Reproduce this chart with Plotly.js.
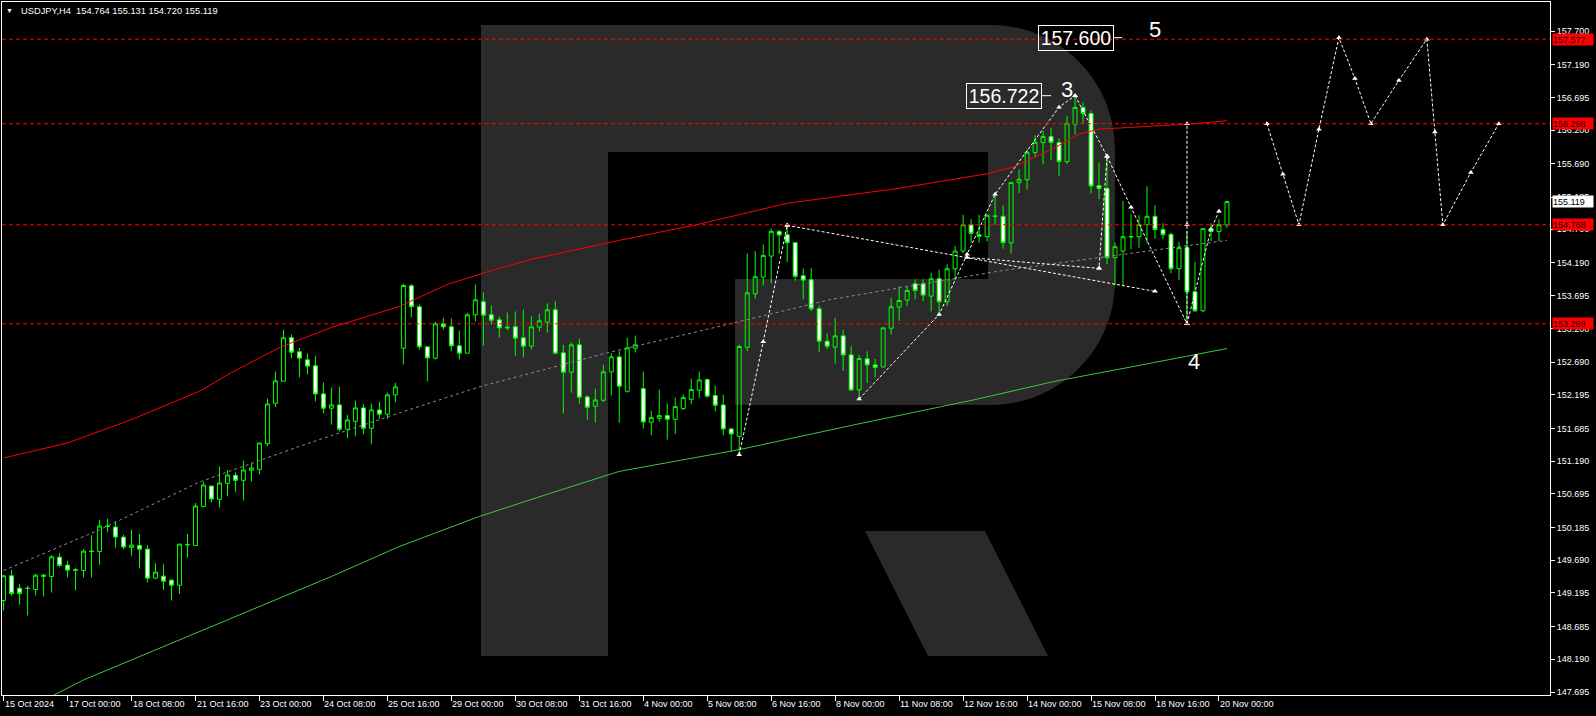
<!DOCTYPE html>
<html><head><meta charset="utf-8">
<script src="https://cdn.plot.ly/plotly-3.0.1.min.js"></script>
<style>html,body{margin:0;padding:0;background:#000;}#chart{width:1596px;height:716px;}</style>
</head><body><div id="chart"></div>
<script>
// ---------- DATA ----------
const symbol = 'USDJPY';
const timeframe = 'H4';
const opens = [149.080,149.454,149.267,149.267,149.247,149.464,149.444,149.737,149.616,149.545,
149.535,149.828,149.823,150.207,150.192,150.040,149.884,149.914,149.858,149.419,
149.449,149.388,149.312,149.929,149.914,150.505,150.813,150.611,150.854,150.975,
150.899,151.051,151.066,151.455,152.066,152.400,153.057,152.844,152.723,152.632,
152.208,151.991,152.041,151.672,151.793,151.996,151.687,151.965,151.900,152.193,
152.899,153.844,153.526,152.920,152.748,153.268,153.223,152.935,152.824,153.405,
153.602,153.405,153.329,153.218,153.223,153.056,152.930,153.218,153.294,153.481,
152.829,152.536,152.950,152.162,152.020,152.111,152.541,152.768,152.248,152.899,
152.288,151.778,151.838,151.879,151.823,151.985,152.126,152.263,152.424,152.182,
152.040,151.677,151.565,152.914,153.723,153.976,154.294,154.668,154.617,154.496,
153.996,153.935,153.496,153.005,152.914,153.086,152.798,152.268,152.738,152.647,
152.616,153.202,153.521,153.627,153.875,153.875,153.688,153.951,153.602,154.102,
154.370,154.769,154.618,154.587,154.901,154.896,154.492,155.406,155.451,155.861,
156.012,156.103,156.012,155.724,156.290,156.543,156.452,155.360,155.320,154.269,
154.370,154.590,154.587,154.769,154.896,154.694,154.623,154.102,154.421,153.754,
153.466,154.709,154.664,154.764];
const highs = [149.469,149.545,149.333,149.302,149.484,149.484,149.767,149.798,149.681,149.570,
149.858,150.070,150.303,150.318,150.283,150.075,150.151,150.086,149.919,149.646,
149.631,149.403,149.934,150.086,150.555,150.879,150.813,151.106,151.056,151.020,
151.197,151.167,151.465,152.137,152.546,153.178,153.107,152.905,152.819,152.784,
152.380,152.304,152.314,151.889,152.107,152.056,152.061,152.087,152.228,152.375,
153.880,153.870,153.561,152.930,153.299,153.359,153.349,153.167,153.435,153.865,
153.743,153.546,153.380,153.440,153.455,153.481,153.380,153.420,153.577,153.607,
152.950,152.985,153.046,152.187,152.288,152.652,152.829,152.854,153.061,153.091,
152.546,151.955,152.273,152.061,152.152,152.197,152.440,152.546,152.440,152.334,
152.197,151.697,152.955,154.334,154.370,154.471,154.713,154.688,154.759,154.496,
154.107,154.112,153.546,153.122,153.359,153.177,152.930,152.798,152.854,152.738,
153.208,153.662,153.839,153.840,153.941,153.941,154.042,154.087,154.168,154.446,
154.921,154.855,154.921,154.921,155.229,155.057,155.406,155.608,155.906,156.124,
156.189,156.235,156.078,156.417,156.722,156.619,156.497,155.709,155.785,154.500,
155.128,154.926,154.911,155.350,155.062,154.790,154.648,154.507,154.663,154.208,
154.709,154.790,154.850,155.131];
const lows = [148.928,149.151,149.014,148.853,149.156,149.141,149.201,149.585,149.429,149.232,
149.429,149.429,149.621,150.116,149.878,149.858,149.757,149.565,149.353,149.403,
149.242,149.080,149.181,149.732,149.914,150.490,150.566,150.490,150.657,150.727,
150.596,150.884,150.990,151.415,152.006,152.400,152.749,152.460,152.501,152.097,
151.915,151.743,151.642,151.536,151.566,151.596,151.445,151.829,151.829,152.081,
152.652,153.369,152.879,152.399,152.728,153.182,152.854,152.728,152.824,153.304,
152.940,153.258,153.061,153.172,152.788,152.758,152.879,153.152,153.137,152.809,
151.909,152.227,152.061,151.818,151.773,152.086,152.182,151.773,152.227,152.834,
151.682,151.581,151.788,151.515,151.606,151.965,152.051,152.147,152.152,151.944,
151.581,151.338,151.287,152.854,153.652,153.849,153.880,154.329,154.203,153.920,
153.637,153.460,152.839,152.889,152.667,152.556,152.253,152.131,152.374,152.460,
152.611,153.107,153.314,153.536,153.637,153.612,153.456,153.385,153.536,153.941,
154.335,154.497,154.497,154.517,154.769,154.406,154.330,155.249,155.300,155.790,
155.684,155.745,155.507,155.689,156.134,156.290,155.244,155.153,154.168,153.850,
153.840,154.396,154.421,154.497,154.557,154.547,154.032,153.931,153.269,153.446,
153.446,154.522,154.522,154.720];
const closes = [149.454,149.186,149.186,149.262,149.464,149.449,149.742,149.611,149.540,149.540,
149.828,149.823,150.207,150.202,150.040,149.889,149.919,149.858,149.419,149.510,
149.373,149.312,149.934,149.924,150.510,150.828,150.616,150.859,150.980,150.899,
151.056,151.086,151.465,152.056,152.405,153.057,152.839,152.749,152.627,152.208,
151.991,152.041,151.672,151.814,151.996,151.687,151.965,151.900,152.193,152.314,
153.849,153.526,152.920,152.753,153.268,153.223,152.935,152.824,153.405,153.632,
153.400,153.324,153.208,153.208,153.051,152.930,153.223,153.314,153.481,152.824,
152.536,152.950,152.157,152.005,152.116,152.541,152.768,152.323,152.905,152.950,
151.783,151.848,151.879,151.823,152.015,152.152,152.273,152.419,152.172,152.035,
151.677,151.601,152.925,153.738,153.981,154.304,154.668,154.612,154.496,153.986,
153.930,153.496,153.005,152.930,153.086,152.798,152.268,152.743,152.647,152.606,
153.208,153.526,153.622,153.774,153.774,153.703,153.951,153.602,154.102,154.370,
154.769,154.638,154.592,154.911,154.896,154.497,155.406,155.457,155.866,156.017,
156.103,156.012,155.724,156.305,156.543,156.452,155.355,155.315,154.269,154.436,
154.587,154.585,154.774,154.896,154.694,154.618,154.102,154.421,153.754,153.466,
154.709,154.664,154.769,155.119];

// moving-average style lines (bar position, price)
const redLineX = [0,8,16,24.5,28.5,34.5,41,49.5,55.5,61.5,66,77,86.5,98,112,123,126.5,131.5,134.5,137,148,153];
const redLineY = [151.238,151.465,151.819,152.248,152.531,152.910,153.213,153.532,153.865,154.093,154.244,154.532,154.764,155.093,155.320,155.540,155.650,155.937,156.139,156.215,156.290,156.343];
const greenLineX = [5.5,10,28,41,49.5,59.5,68.5,77,92,106.5,121.5,131.5,141.5,153];
const greenLineY = [147.600,147.878,148.787,149.444,149.898,150.353,150.708,151.035,151.364,151.743,152.122,152.399,152.627,152.895];
const midLineX = [0,12,24.5,37,49.5,59.5,75.5,87,103.5,124.5,153];
const midLineY = [149.534,150.151,150.874,151.414,151.920,152.314,152.830,153.157,153.638,154.067,154.532];

// horizontal levels
const levelPrices = [157.577,156.298,154.768,153.269];
const lastPrice = 155.119;

// forecast / wave drawings
const waveUpX = [92,95,98], waveUpY = [151.287,152.996,154.759];
const triUpperX = [98,144], triUpperY = [154.759,153.760];
const rallyX = [107,117,120.5,124,132,134], rallyY = [152.131,153.410,154.320,155.229,156.548,156.722];
const triLowerX = [120.5,137], triLowerY = [154.274,154.108];
const peakDropX = [134,138,137], peakDropY = [156.722,155.805,154.108];
const dropX = [138,141,148], dropY = [155.805,155.032,153.269];
const verticalX = [148,148,148], verticalY = [153.269,154.768,156.298];
const reboundX = [148,151,152], reboundY = [153.269,154.699,154.972];
const forecastX = [158,160,162,164.5,167,169,171,174.5,178,179,180,183.5,187];
const forecastY = [156.298,155.532,154.768,156.215,157.600,156.983,156.298,156.953,157.577,156.174,154.768,155.558,156.298];

// callouts
const wave3Price = 156.722, wave5Price = 157.600;

// axis ticks
const yTickVals = [147.695,148.190,148.685,149.195,149.690,150.185,150.695,151.190,151.685,152.195,152.690,153.200,153.695,154.190,154.700,155.185,155.690,156.200,156.695,157.190,157.700];
const xTickBars = [0,8,16,24,32,40,48,56,64,72,80,88,96,104,112,120,128,136,144,152];
const xTickLabels = ['15 Oct 2024','17 Oct 00:00','18 Oct 08:00','21 Oct 16:00','23 Oct 00:00','24 Oct 08:00','25 Oct 16:00','29 Oct 00:00','30 Oct 08:00','31 Oct 16:00','4 Nov 00:00','5 Nov 08:00','6 Nov 16:00','8 Nov 00:00','11 Nov 08:00','12 Nov 16:00','14 Nov 00:00','15 Nov 08:00','18 Nov 16:00','20 Nov 00:00'];

// ---------- CHART ----------
const FONT = 'Liberation Sans, Arial, sans-serif';
const BIG = 'Liberation Sans, Arial, sans-serif';
const PL = 2, PR = 1550, PT = 2, PB = 695;
const px = x => ((x - PL) / (PR - PL)).toFixed(5);
const py = y => ((PB - y) / (PB - PT)).toFixed(5);
const P = (x, y) => px(x) + ',' + py(y);

const barIdx = opens.map((_, i) => i);
const last = opens.length - 1;

const traces = [];
traces.push({type:'scatter', mode:'lines', x:greenLineX, y:greenLineY, line:{color:'#3cc83c', width:1}, hoverinfo:'skip'});
traces.push({type:'scatter', mode:'lines', x:redLineX, y:redLineY, line:{color:'#ff0000', width:1}, hoverinfo:'skip'});
traces.push({type:'scatter', mode:'lines', x:midLineX, y:midLineY, line:{color:'#8c8c8c', width:1, dash:'3px,3px'}, hoverinfo:'skip'});
traces.push({type:'candlestick', x:barIdx, open:opens, high:highs, low:lows, close:closes,
  increasing:{line:{color:'#00ff00', width:1}, fillcolor:'rgba(0,0,0,0)'},
  decreasing:{line:{color:'#00ff00', width:1}, fillcolor:'#ffffff'},
  whiskerwidth:0, hoverinfo:'skip'});
const fc = [[waveUpX,waveUpY],[triUpperX,triUpperY],[rallyX,rallyY],[triLowerX,triLowerY],[peakDropX,peakDropY],[dropX,dropY],[verticalX,verticalY],[reboundX,reboundY],[forecastX,forecastY]];
fc.forEach(([x,y]) => traces.push({type:'scatter', mode:'lines+markers', x:x, y:y,
  line:{color:'#ffffff', width:1, dash:'3px,2px'}, marker:{symbol:'triangle-up', size:5, color:'#ffffff'}, hoverinfo:'skip'}));

const shapes = [];
// watermark R
const R = 124, k = 0.5523 * R;
shapes.push({type:'path', xref:'paper', yref:'paper', layer:'below', fillcolor:'#2a2a2a', line:{width:0},
  path:'M ' + P(481,25) + ' L ' + P(1115-R,25) + ' C ' + P(1115-R+k,25) + ' ' + P(1115,25+R-k) + ' ' + P(1115,25+R) +
    ' L ' + P(1115,405-R) + ' C ' + P(1115,405-R+k) + ' ' + P(1115-R+k,405) + ' ' + P(1115-R,405) +
    ' L ' + P(735,405) + ' L ' + P(735,279) + ' L ' + P(988,279) + ' L ' + P(988,152) + ' L ' + P(608,152) +
    ' L ' + P(608,656) + ' L ' + P(481,656) + ' Z'});
shapes.push({type:'path', xref:'paper', yref:'paper', layer:'below', fillcolor:'#2a2a2a', line:{width:0},
  path:'M ' + P(865,531) + ' L ' + P(985,531) + ' L ' + P(1048,656) + ' L ' + P(928,656) + ' Z'});
levelPrices.forEach(p => shapes.push({type:'line', xref:'paper', x0:0, x1:1, yref:'y', y0:p, y1:p,
  line:{color:'#ff0000', width:1, dash:'4px,3px'}}));
shapes.push({type:'line', xref:'x', yref:'y', x0:129.8, x1:131, y0:wave3Price, y1:wave3Price, line:{color:'#ffffff', width:1}});
shapes.push({type:'line', xref:'x', yref:'y', x0:138.8, x1:139.9, y0:wave5Price, y1:wave5Price, line:{color:'#ffffff', width:1}});

const annotations = [];
annotations.push({xref:'paper', yref:'paper', x:px(9.5), y:py(10.5), xanchor:'center', yanchor:'middle', showarrow:false,
  text:'\u25BC', font:{family:FONT, size:7, color:'#ffffff'}});
annotations.push({xref:'paper', yref:'paper', x:px(19), y:py(10.5), xanchor:'left', yanchor:'middle', showarrow:false,
  text: symbol + ',' + timeframe + '\u00a0\u00a0' + [opens[last],highs[last],lows[last],closes[last]].map(v=>v.toFixed(3)).join(' '),
  font:{family:FONT, size:9.3, color:'#ffffff'}});
xTickBars.forEach((b,i) => annotations.push({xref:'x', yref:'paper', x:b, y:py(704.3), xanchor:'left', yanchor:'middle',
  xshift:-1, showarrow:false, text:xTickLabels[i], font:{family:FONT, size:9, color:'#ffffff'}}));
levelPrices.forEach(p => annotations.push({xref:'paper', yref:'y', x:1, y:p, xanchor:'left', yanchor:'middle', xshift:2,
  showarrow:false, text:p.toFixed(3), bgcolor:'#ff0000', width:40, height:11, align:'left', borderpad:0,
  font:{family:FONT, size:9, color:'#1a0000'}}));
annotations.push({xref:'paper', yref:'y', x:1, y:lastPrice, xanchor:'left', yanchor:'middle', xshift:2,
  showarrow:false, text:lastPrice.toFixed(3), bgcolor:'#ffffff', width:40, height:11, align:'left', borderpad:0,
  font:{family:FONT, size:9, color:'#000000'}});
annotations.push({xref:'x', yref:'y', x:125.15, y:wave3Price, xanchor:'center', yanchor:'middle', showarrow:false,
  text:wave3Price.toFixed(3), bordercolor:'#ffffff', borderwidth:1, borderpad:0, width:74, height:24,
  font:{family:BIG, size:19.5, color:'#ffffff'}});
annotations.push({xref:'x', yref:'y', x:134.1, y:wave5Price, xanchor:'center', yanchor:'middle', showarrow:false,
  text:wave5Price.toFixed(3), bordercolor:'#ffffff', borderwidth:1, borderpad:0, width:74, height:24,
  font:{family:BIG, size:19.5, color:'#ffffff'}});
annotations.push({xref:'x', yref:'y', x:133, y:156.821, xanchor:'center', yanchor:'middle', showarrow:false,
  text:'3', font:{family:BIG, size:22, color:'#ffffff'}});
annotations.push({xref:'x', yref:'y', x:144, y:157.72, xanchor:'center', yanchor:'middle', showarrow:false,
  text:'5', font:{family:BIG, size:22, color:'#ffffff'}});
annotations.push({xref:'x', yref:'y', x:148.9, y:152.698, xanchor:'center', yanchor:'middle', showarrow:false,
  text:'4', font:{family:BIG, size:22, color:'#ffffff'}});

const layout = {
  width:1596, height:716, margin:{l:2, r:46, t:2, b:21},
  paper_bgcolor:'#000000', plot_bgcolor:'#000000', showlegend:false,
  xaxis:{range:[-0.2,193.4], showgrid:false, zeroline:false, showline:true, linecolor:'#ffffff', linewidth:1, mirror:true,
    ticks:'outside', ticklen:5, tickcolor:'#ffffff', tickvals:xTickBars, showticklabels:false, rangeslider:{visible:false}, fixedrange:true},
  yaxis:{range:[147.650,158.140], side:'right', showgrid:false, zeroline:false, showline:true, linecolor:'#ffffff', linewidth:1, mirror:true,
    ticks:'outside', ticklen:4, tickcolor:'#ffffff', tickvals:yTickVals, ticktext:yTickVals.map(v=>v.toFixed(3)),
    tickfont:{family:FONT, size:9, color:'#ffffff'}, fixedrange:true},
  shapes:shapes, annotations:annotations
};
Plotly.newPlot('chart', traces, layout, {staticPlot:true, displayModeBar:false});
</script></body></html>
